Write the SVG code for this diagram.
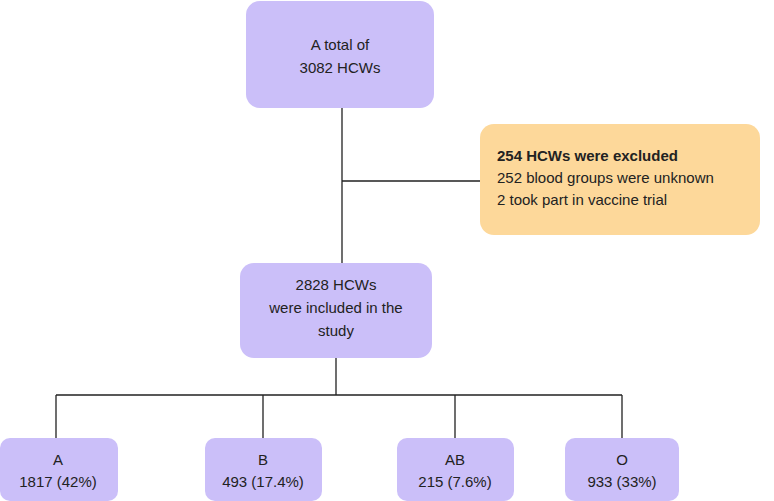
<svg xmlns="http://www.w3.org/2000/svg" width="774" height="501" viewBox="0 0 774 501">
<style>
.n{fill:#cbbff9}
.t{font-family:"Liberation Sans",Arial,sans-serif;font-size:15px;fill:#222;text-anchor:middle}
.c{stroke:#222;stroke-width:1.3;fill:none}
</style>
<rect width="774" height="501" fill="#fff"/>
<g id="connectors" class="c">
<path d="M342 108V263M342 181H480M336 358V395M56 395H622M56 395V438M263 395V438M455 395V438M622 395V438"/>
</g>
<g id="total"><rect class="n" x="246" y="1" width="188" height="107" rx="14"/>
<text class="t" x="340" y="50">A total of</text><text class="t" x="340" y="73">3082 HCWs</text></g>
<g id="excluded"><rect x="480" y="124" width="280" height="111" rx="14" fill="#fdd89a"/>
<text class="t" x="497" y="161" style="text-anchor:start;font-weight:bold">254 HCWs were excluded</text>
<text class="t" x="497" y="183" style="text-anchor:start">252 blood groups were unknown</text>
<text class="t" x="497" y="205" style="text-anchor:start">2 took part in vaccine trial</text></g>
<g id="included"><rect class="n" x="240" y="263" width="192" height="95" rx="14"/>
<text class="t" x="336" y="290">2828 HCWs</text><text class="t" x="336" y="313">were included in the</text><text class="t" x="336" y="336">study</text></g>
<g id="A"><rect class="n" x="0" y="438" width="118" height="63" rx="10"/>
<text class="t" x="58" y="465">A</text><text class="t" x="58" y="487">1817 (42%)</text></g>
<g id="B"><rect class="n" x="205" y="438" width="117" height="63" rx="10"/>
<text class="t" x="263" y="465">B</text><text class="t" x="263" y="487">493 (17.4%)</text></g>
<g id="AB"><rect class="n" x="397" y="438" width="117" height="63" rx="10"/>
<text class="t" x="455" y="465">AB</text><text class="t" x="455" y="487">215 (7.6%)</text></g>
<g id="O"><rect class="n" x="565" y="438" width="114" height="63" rx="10"/>
<text class="t" x="622" y="465">O</text><text class="t" x="622" y="487">933 (33%)</text></g>
</svg>
